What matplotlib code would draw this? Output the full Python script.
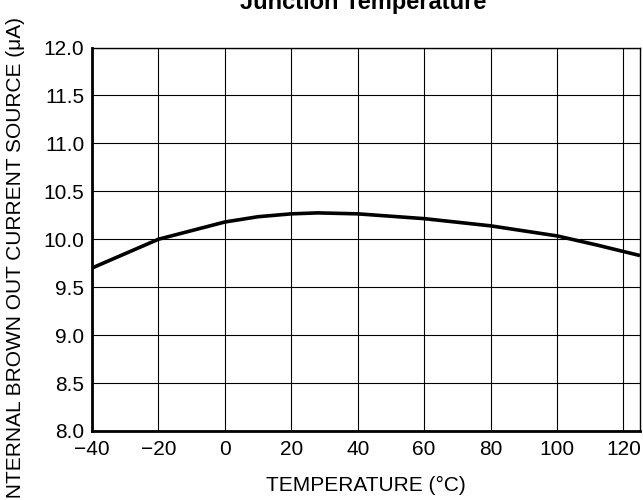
import numpy as np
import matplotlib.pyplot as plt

# Data
temp_c = [-40, -30, -20, -10, 0, 10, 20, 28, 40, 60, 80, 100, 112, 125]
current_ua = [9.70, 9.85, 10.0, 10.09, 10.18, 10.235, 10.265, 10.275, 10.265, 10.215, 10.14, 10.035, 9.94, 9.83]

x_ticks = [-40, -20, 0, 20, 40, 60, 80, 100, 120]
x_labels = ["\u221240", "\u221220", "0", "20", "40", "60", "80", "100", "120"]
y_ticks = [8.0, 8.5, 9.0, 9.5, 10.0, 10.5, 11.0, 11.5, 12.0]

plt.rcParams["font.family"] = ["Liberation Sans", "DejaVu Sans"]

fig = plt.figure(figsize=(6.43, 5.0), dpi=100)
ax = fig.add_axes([92 / 643, 69 / 500, 548 / 643, 383.5 / 500])

ax.plot(temp_c, current_ua, color="black", linewidth=2.6, solid_capstyle="butt")

ax.set_xlim(-40, 125)
ax.set_ylim(8.0, 12.0)
ax.set_xticks(x_ticks)
ax.set_xticklabels(x_labels)
ax.set_yticks(y_ticks)
ax.set_yticklabels([f"{v:.1f}" for v in y_ticks])
ax.tick_params(length=0, labelsize=15)
ax.tick_params(axis="x", pad=6.5)
ax.tick_params(axis="y", pad=5.5)
ax.grid(True, color="black", linewidth=0.8)

for side in ["left", "bottom"]:
    ax.spines[side].set_linewidth(2.0)
for side in ["top", "right"]:
    ax.spines[side].set_linewidth(1.0)

ax.set_xlabel("TEMPERATURE (\u00b0C)", fontsize=15, labelpad=12)
fig.text(0.024, 0.966, "INTERNAL BROWN OUT CURRENT SOURCE (\u03bcA)",
         rotation=90, fontsize=15, ha="center", va="top")
fig.text(0.565, 0.982, "Junction Temperature", fontsize=17,
         fontweight="bold", ha="center", va="baseline")

fig.savefig("out.png", dpi=100)
